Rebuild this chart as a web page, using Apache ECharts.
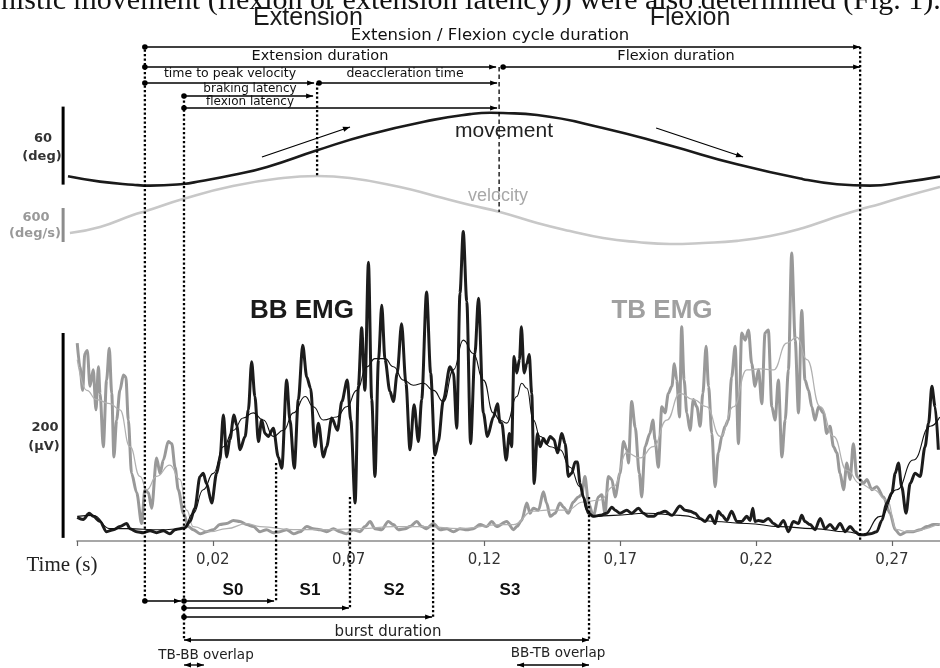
<!DOCTYPE html>
<html><head><meta charset="utf-8">
<script src="https://cdn.jsdelivr.net/npm/echarts/dist/echarts.min.js"></script>
<style>html,body{margin:0;padding:0;background:#fff}#c{width:940px;height:668px}</style>
</head><body><div id="c"></div>
<script>
// ---------- axis ticks (time in ms, labelled in s) ----------
const tickTimes = [-30, 20, 70, 120, 170, 220, 270];
const tickLabels = ['', '0,02', '0,07', '0,12', '0,17', '0,22', '0,27'];

// ---------- event times (ms) ----------
const eventTimes = {A:-5.0, B:9.4, C:58.4, D:125.4, E:258.3, S0:43.3, S1:70.5, S2:101.1, S3:158.5, TBoff:16.75, TBon:132.0};

// ---------- movement (deg) ----------
const moveT = [-33.3,-21.5,-9.4,-3.1,9.0,15.3,27.4,40.0,58.4,76.8,101.1,114.7,122.1,126.8,139.4,163.6,188.3,213.0,237.3,249.8,261.9,274.1,287.7];
const moveV = [7.4,3.3,0.9,0.2,1.5,3.6,8.4,14.6,27.4,39.2,50.8,55.2,56.3,56.1,54.5,44.6,31.0,16.6,5.2,1.3,0.2,2.8,7.2];

// ---------- velocity (deg/s) ----------
const velT = [-32.6,-21.5,-9.4,-4.6,9.0,27.4,45.8,58.4,70.5,88.9,101.8,114.7,125.7,139.4,151.5,163.7,176.2,188.3,200.5,213.0,225.2,237.3,247.2,257.6,265.7,274.1,287.7];
const velV = [-406,-300,-88,-18,194,424,565,600,565,406,247,88,-35,-229,-371,-494,-565,-600,-582,-545,-460,-318,-159,0,106,229,406];

// ---------- BB EMG raw (ms, µV) ----------
const bbRaw = [[-29.9,23],[-27.7,21],[-25.5,27],[-24.0,24],[-21.5,19],[-19.1,9],[-16.6,11],[-14.2,14],[-11.7,17],[-10.5,12],[-8.0,9],[-5.6,8],[-3.1,10],[-0.7,8],[1.8,10],[4.2,7],[6.1,11],[7.9,12],[9.8,13],[11.6,19],[13.4,32],[15.3,63],[16.5,66],[17.7,56],[19.6,37],[21.4,66],[22.6,79],[23.9,123],[25.1,82],[26.3,99],[27.8,123],[28.8,113],[30.0,89],[31.9,102],[33.1,128],[34.3,175],[35.5,141],[36.8,97],[38.0,118],[39.2,105],[40.4,102],[42.3,110],[44.1,82],[45.4,71],[47.2,157],[48.4,118],[50.0,71],[51.5,138],[53.1,191],[54.6,160],[56.0,149],[57.6,92],[58.9,115],[60.7,82],[61.9,92],[63.8,120],[65.9,108],[67.5,136],[69.5,157],[70.8,118],[72.4,37],[73.6,151],[74.8,208],[76.0,147],[77.3,272],[78.5,138],[79.7,63],[81.0,177],[82.2,230],[83.4,177],[85.2,146],[86.5,136],[87.9,164],[89.5,212],[91.1,154],[92.6,89],[94.1,133],[95.7,97],[96.9,138],[98.7,243],[100.2,164],[101.8,84],[103.0,97],[104.9,138],[107.3,170],[108.6,164],[109.8,110],[111.0,242],[112.2,302],[113.5,234],[114.9,95],[116.5,183],[117.8,237],[119.6,125],[121.1,102],[123.3,121],[124.8,134],[125.7,116],[126.4,115],[128.0,79],[129.2,105],[130.0,92],[130.9,180],[131.9,164],[132.9,177],[133.6,209],[134.6,164],[135.6,173],[136.5,182],[137.4,144],[138.3,56],[139.5,105],[140.5,92],[141.7,100],[142.9,95],[144.2,102],[145.6,99],[146.9,86],[148.5,105],[149.7,95],[150.9,63],[152.1,66],[153.4,77],[154.2,77],[155.2,56],[156.4,43],[158.3,27],[160.1,24],[162.6,25],[165.0,27],[166.9,33],[168.1,30],[169.9,27],[172.4,30],[174.2,27],[176.7,32],[178.5,27],[180.4,24],[182.2,24],[184.0,27],[186.5,29],[189.0,25],[192.0,34],[193.9,30],[195.7,29],[197.5,27],[199.4,22],[201.2,19],[203.1,25],[204.9,17],[206.1,29],[207.4,25],[209.2,20],[211.0,29],[212.9,19],[214.7,19],[216.6,24],[217.8,20],[218.8,32],[219.6,19],[220.9,20],[222.7,19],[224.5,22],[226.4,17],[228.2,14],[230.1,20],[231.9,9],[233.7,19],[235.6,17],[236.8,25],[238.0,19],[239.9,16],[241.7,11],[243.6,22],[245.4,12],[247.2,16],[249.1,11],[250.9,17],[252.8,9],[254.6,14],[256.5,9],[258.0,6],[259.5,6],[262.0,7],[264.4,9],[266.3,20],[268.1,37],[270.0,47],[271.2,66],[272.4,76],[273.6,53],[275.2,27],[276.7,56],[278.5,66],[280.4,63],[282.2,92],[283.5,115],[284.7,151],[285.9,131],[287.1,89]];

// ---------- BB EMG smoothed ----------
const bbSmooth = [[-29.9,24],[-24.0,25],[-17.9,12],[-11.7,12],[0.6,11],[9.2,12],[12.8,27],[16.5,50],[20.2,66],[23.9,92],[27.6,108],[31.2,120],[34.9,125],[38.6,118],[42.3,102],[46.0,108],[49.7,125],[54.0,141],[57.0,131],[60.7,118],[65.6,121],[69.3,131],[73.0,147],[76.7,170],[79.7,178],[83.4,178],[86.5,170],[90.2,157],[93.8,152],[97.5,154],[101.2,147],[104.9,136],[108.6,167],[112.2,196],[115.9,183],[119.6,157],[123.3,125],[125.7,118],[128.2,115],[131.9,141],[133.7,154],[135.6,149],[138.0,118],[140.5,102],[144.2,92],[147.8,89],[151.5,72],[155.2,53],[157.7,30],[160.1,24],[167.5,25],[179.8,27],[192.0,25],[204.3,19],[216.6,17],[228.8,14],[241.1,12],[253.4,9],[259.5,6],[265.7,24],[271.8,50],[277.9,79],[284.1,112],[287.6,121]];

// ---------- TB EMG raw ----------
const tbRaw = [[-29.9,193],[-28.9,170],[-27.9,147],[-27.1,183],[-26.2,186],[-25.2,151],[-24.0,167],[-23.0,128],[-22.1,170],[-21.5,144],[-20.3,92],[-19.1,157],[-18.1,188],[-17.2,144],[-16.4,82],[-15.4,118],[-14.2,147],[-12.9,162],[-12.0,160],[-11.1,118],[-9.9,66],[-8.0,47],[-6.2,17],[-5.0,50],[-3.7,47],[-2.5,32],[-0.7,81],[0.6,66],[1.8,79],[3.6,97],[4.9,95],[6.1,72],[7.3,50],[9.2,27],[11.0,14],[12.8,11],[15.3,7],[17.7,9],[20.2,11],[22.6,16],[25.1,17],[27.6,20],[30.0,19],[32.5,16],[34.9,14],[37.4,9],[39.8,11],[42.3,8],[44.7,9],[47.2,11],[49.7,7],[52.1,9],[54.6,14],[57.0,12],[59.5,11],[61.9,9],[64.4,12],[66.8,9],[69.3,7],[71.7,11],[74.2,9],[76.0,14],[77.9,19],[79.7,12],[82.2,11],[84.6,19],[86.5,16],[88.3,11],[90.8,12],[92.6,14],[95.1,19],[96.9,14],[98.7,12],[101.2,17],[103.7,11],[106.1,12],[108.6,9],[111.0,12],[113.5,11],[115.9,12],[118.4,16],[120.8,14],[122.7,19],[124.5,14],[128.2,19],[130.7,11],[131.9,14],[133.7,20],[135.6,37],[136.8,27],[138.0,32],[139.9,30],[141.7,48],[142.9,37],[144.2,24],[146.0,27],[147.8,37],[149.1,33],[150.9,27],[152.7,38],[154.6,43],[155.8,45],[157.0,63],[158.3,37],[160.1,24],[161.9,43],[163.2,45],[164.4,27],[165.6,63],[166.9,60],[168.1,43],[169.9,66],[171.2,97],[172.4,89],[173.0,76],[174.2,136],[175.5,111],[177.0,66],[177.9,43],[179.1,92],[180.9,105],[182.0,118],[182.8,99],[184.0,72],[185.3,131],[186.5,125],[187.7,144],[189.0,151],[189.9,173],[190.8,157],[191.8,121],[192.6,209],[193.5,157],[194.5,125],[195.7,108],[196.9,138],[198.2,131],[199.4,112],[200.4,144],[201.6,190],[202.5,151],[203.7,105],[204.9,53],[206.1,86],[207.4,102],[208.6,112],[209.8,118],[211.0,160],[212.3,190],[213.5,95],[214.7,203],[216.0,196],[217.2,206],[218.4,173],[219.6,151],[220.9,167],[222.1,134],[223.3,203],[224.5,206],[225.8,131],[227.0,118],[228.2,157],[229.5,82],[230.7,118],[231.9,167],[233.1,281],[234.4,196],[235.6,125],[236.8,225],[238.0,157],[239.3,147],[240.5,131],[241.7,118],[243.0,131],[244.8,125],[246.0,105],[247.2,112],[248.5,92],[249.7,86],[250.9,66],[252.2,50],[253.4,76],[254.6,60],[255.8,95],[257.1,63],[258.3,60],[259.5,56],[260.8,60],[262.6,50],[264.4,53],[266.9,43],[269.3,27],[271.2,11],[273.0,6],[275.5,9],[277.9,9],[280.4,11],[282.8,14],[285.3,16],[287.6,16]];

// ---------- TB EMG smoothed ----------
const tbSmooth = [[-29.9,177],[-26.4,147],[-22.8,138],[-17.9,134],[-14.2,128],[-10.5,92],[-6.8,63],[-4.3,50],[-0.7,63],[4.2,74],[7.9,60],[10.4,30],[12.8,14],[19.0,9],[25.1,12],[32.5,17],[37.4,14],[49.7,11],[61.9,11],[74.2,12],[86.5,14],[98.7,14],[111.0,12],[125.7,16],[130.7,16],[138.0,29],[142.9,30],[150.3,30],[156.4,38],[162.6,40],[167.5,53],[172.4,86],[177.3,81],[182.2,92],[187.1,118],[192.0,144],[196.9,138],[201.8,131],[206.8,102],[211.7,131],[216.6,167],[221.5,168],[226.4,167],[231.3,193],[235.0,199],[238.7,177],[243.6,131],[248.5,102],[253.4,69],[258.3,56],[263.2,50],[268.1,40],[271.8,11],[275.5,9],[287.6,17]];

// ---------- scale bars: [start value, size] ----------
const barMovement = [1, 60];
const barVelocity = [-565, 600];
const barEmg = [3, 200];
const barX = -35.1;

// ---------- annotation layout (layout rows in px units) ----------
const arrowSpecs = [
  ['A','E',47,1,0,1,0,0],
  ['A','D',67,1,0,1,0,3],
  ['D','E',67,1,0,1,4,0],
  ['A','C',83,1,0,1,0,3],
  ['C','D',83,1,0,1,2,2],
  ['B','C',96,1,0,1,0,4],
  ['B','D',108,1,0,1,0,2],
  ['A','B',601,1,0,1,0,3],
  ['B','S0',601,1,0,1,0,2],
  ['B','S1',608,1,0,1,0,1],
  ['B','S2',617,1,0,1,0,1],
  ['B','S3',640,0,1,1,0,0],
  ['B','TBoff',665,0,1,1,0,0],
  ['TBon','S3',665,0,1,1,0,0]
];
const moveArrows = [[38.1,157,70.5,127],[183.2,128,215.2,157]];
const vLines = [
  ['A',45,601,1],['B',96,640,1],['C',83,176,1],['D',67,212,2],['E',47,541,1],
  ['S0',463,601,1],['S1',497,608,1],['S2',457,617,1],['S3',497,640,1]
];

const SANS = '"Liberation Sans", Arial, sans-serif';
const DJ = '"DejaVu Sans", sans-serif';
const texts = [
  ['nistic movement (flexion or extension latency)) were also determined (Fig. 1).', 1, 1, '30px "Liberation Serif", serif', '#111', 'left'],
  ['Extension', 308, 18, '25px ' + SANS, '#1a1a1a', 'center'],
  ['Flexion', 690, 18, '25px ' + SANS, '#1a1a1a', 'center'],
  ['Extension / Flexion cycle duration', 490, 36, '16.5px ' + DJ, '#111', 'center'],
  ['Extension duration', 320, 56, '14.5px ' + DJ, '#111', 'center'],
  ['Flexion duration', 676, 56, '14.5px ' + DJ, '#111', 'center'],
  ['time to peak velocity', 230, 74, '12.5px ' + DJ, '#111', 'center'],
  ['deaccleration time', 405, 74, '12.5px ' + DJ, '#111', 'center'],
  ['braking latency', 250, 89, '12px ' + DJ, '#111', 'center'],
  ['flexion latency', 250, 101.5, '12px ' + DJ, '#111', 'center'],
  ['movement', 504, 131, '21px ' + SANS, '#222', 'center'],
  ['velocity', 498, 196, '18px ' + SANS, '#a8a8a8', 'center'],
  ['60', 43, 139, 'bold 13px ' + DJ, '#333', 'center'],
  ['(deg)', 42, 157, 'bold 13px ' + DJ, '#333', 'center'],
  ['600', 36, 218, 'bold 13px ' + DJ, '#999', 'center'],
  ['(deg/s)', 35, 234, 'bold 13px ' + DJ, '#999', 'center'],
  ['200', 45, 428, 'bold 13px ' + DJ, '#333', 'center'],
  ['(µV)', 44, 447, 'bold 13px ' + DJ, '#333', 'center'],
  ['BB EMG', 302, 311, 'bold 26px ' + SANS, '#1a1a1a', 'center'],
  ['TB EMG', 662, 311, 'bold 26px ' + SANS, '#a0a0a0', 'center'],
  ['Time (s)', 62, 565, '21px "Liberation Serif", serif', '#222', 'center'],
  ['S0', 233, 590, 'bold 17px ' + SANS, '#111', 'center'],
  ['S1', 310, 590, 'bold 17px ' + SANS, '#111', 'center'],
  ['S2', 394, 590, 'bold 17px ' + SANS, '#111', 'center'],
  ['S3', 510, 590, 'bold 17px ' + SANS, '#111', 'center'],
  ['burst duration', 388, 632, '15px ' + DJ, '#222', 'center'],
  ['TB-BB overlap', 206, 655, '13.5px ' + DJ, '#222', 'center'],
  ['BB-TB overlap', 558, 653, '13.5px ' + DJ, '#222', 'center']
];

// ---------- build ----------
const zip = (a, b) => a.map((v, i) => [v, b[i]]);
const arrowData = arrowSpecs.map(s => [eventTimes[s[0]], s[2], eventTimes[s[1]], s[2], s[3], s[4], s[5], s[6], s[7]])
  .concat(moveArrows.map(m => [m[0], m[1], m[2], m[3], 0, 0, 1, 0, 0]));
const vLineData = vLines.map(v => [eventTimes[v[0]], v[1], v[2], v[3]]);

function renderArrow(params, api) {
  const a = api.coord([api.value(0), api.value(1)]);
  const b = api.coord([api.value(2), api.value(3)]);
  const sDot = api.value(4), sHead = api.value(5), eHead = api.value(6), ds = api.value(7), ts = api.value(8);
  const dx = b[0] - a[0], dy = b[1] - a[1], len = Math.hypot(dx, dy) || 1;
  const ux = dx / len, uy = dy / len, nx = -uy, ny = ux;
  const s = [a[0] + ux * ds, a[1] + uy * ds], e = [b[0] - ux * ts, b[1] - uy * ts];
  const L = 7, W = 2.6;
  const ch = [{type: 'line', shape: {x1: s[0], y1: s[1], x2: e[0], y2: e[1]}, style: {stroke: '#000', lineWidth: 1.3}}];
  if (eHead) ch.push({type: 'polygon', shape: {points: [[e[0], e[1]], [e[0] - ux * L + nx * W, e[1] - uy * L + ny * W], [e[0] - ux * L - nx * W, e[1] - uy * L - ny * W]]}, style: {fill: '#000'}});
  if (sHead) ch.push({type: 'polygon', shape: {points: [[s[0], s[1]], [s[0] + ux * L + nx * W, s[1] + uy * L + ny * W], [s[0] + ux * L - nx * W, s[1] + uy * L - ny * W]]}, style: {fill: '#000'}});
  if (sDot) ch.push({type: 'circle', shape: {cx: s[0], cy: s[1], r: 2.8}, style: {fill: '#000'}});
  return {type: 'group', children: ch};
}
function renderVLine(params, api) {
  const p1 = api.coord([api.value(0), api.value(1)]);
  const p2 = api.coord([api.value(0), api.value(2)]);
  const dotted = api.value(3) === 1;
  return {type: 'line', shape: {x1: p1[0], y1: p1[1], x2: p2[0], y2: p2[1]},
    style: {stroke: '#000', lineWidth: dotted ? 2.3 : 1.3, lineDash: dotted ? [2.2, 2.3] : [4.5, 3]}};
}
function barRenderer(color) {
  return function (params, api) {
    const p1 = api.coord([api.value(0), api.value(1)]);
    const p2 = api.coord([api.value(0), api.value(2)]);
    return {type: 'line', shape: {x1: p1[0], y1: p1[1], x2: p2[0], y2: p2[1]}, style: {stroke: color, lineWidth: 3}};
  };
}

const lineBase = {type: 'line', xAxisIndex: 1, showSymbol: false, symbol: 'none', clip: false, animation: false};

const option = {
  animation: false,
  backgroundColor: '#fff',
  grid: [
    {left: 77, right: 0, bottom: 127, height: 20},
    {left: 0, right: 0, top: 0, bottom: 0}
  ],
  xAxis: [
    {gridIndex: 0, type: 'value', min: -30, max: 287.7, position: 'bottom',
      axisLine: {show: true, lineStyle: {color: '#8a8a8a', width: 1.6}},
      axisTick: {show: true, length: 5, customValues: tickTimes, lineStyle: {color: '#666', width: 1.2}},
      axisLabel: {customValues: tickTimes.slice(1), fontFamily: 'DejaVu Sans', fontSize: 15, color: '#333', margin: 12,
        formatter: v => { const i = tickTimes.indexOf(v); return i >= 0 ? tickLabels[i] : ''; }},
      splitLine: {show: false}},
    {gridIndex: 1, type: 'value', min: -58.33, max: 287.7, show: false, splitLine: {show: false}}
  ],
  yAxis: [
    {gridIndex: 0, type: 'value', min: 0, max: 1, show: false},
    {gridIndex: 1, type: 'value', min: -124, max: 528, show: false},
    {gridIndex: 1, type: 'value', min: -370.8, max: 143, show: false},
    {gridIndex: 1, type: 'value', min: -8082, max: 3706, show: false},
    {gridIndex: 1, type: 'value', min: 0, max: 668, inverse: true, show: false}
  ],
  series: [
    Object.assign({}, lineBase, {name: 'velocity', yAxisIndex: 3, smooth: 0.5, data: zip(velT, velV), lineStyle: {color: '#c8c8c8', width: 2.6}}),
    Object.assign({}, lineBase, {name: 'movement', yAxisIndex: 2, smooth: 0.5, data: zip(moveT, moveV), lineStyle: {color: '#1a1a1a', width: 2.6}}),
    Object.assign({}, lineBase, {name: 'TB raw', yAxisIndex: 1, smooth: 0.3, smoothMonotone: 'x', data: tbRaw, lineStyle: {color: '#999', width: 3}}),
    Object.assign({}, lineBase, {name: 'TB smooth', yAxisIndex: 1, smooth: 0.5, smoothMonotone: 'x', data: tbSmooth, lineStyle: {color: '#b0b0b0', width: 1.2}}),
    Object.assign({}, lineBase, {name: 'BB raw', yAxisIndex: 1, smooth: 0.3, smoothMonotone: 'x', data: bbRaw, lineStyle: {color: '#1c1c1c', width: 3}}),
    Object.assign({}, lineBase, {name: 'BB smooth', yAxisIndex: 1, smooth: 0.5, smoothMonotone: 'x', data: bbSmooth, lineStyle: {color: '#111', width: 1.1}}),
    {type: 'custom', xAxisIndex: 1, yAxisIndex: 4, renderItem: renderVLine, data: vLineData, clip: false, silent: true, z: 5},
    {type: 'custom', xAxisIndex: 1, yAxisIndex: 4, renderItem: renderArrow, data: arrowData, clip: false, silent: true, z: 6},
    {type: 'custom', xAxisIndex: 1, yAxisIndex: 2, renderItem: barRenderer('#000'), data: [[barX, barMovement[0], barMovement[0] + barMovement[1]]], clip: false, silent: true},
    {type: 'custom', xAxisIndex: 1, yAxisIndex: 3, renderItem: barRenderer('#8c8c8c'), data: [[barX, barVelocity[0], barVelocity[0] + barVelocity[1]]], clip: false, silent: true},
    {type: 'custom', xAxisIndex: 1, yAxisIndex: 1, renderItem: barRenderer('#000'), data: [[barX, barEmg[0], barEmg[0] + barEmg[1]]], clip: false, silent: true}
  ],
  graphic: {elements: texts.map(t => ({
    type: 'text', x: t[1], y: t[2], silent: true, z: 100,
    style: {text: t[0], font: t[3], fill: t[4], textAlign: t[5], textVerticalAlign: 'middle', align: t[5], verticalAlign: 'middle'}
  }))}
};

const chart = echarts.init(document.getElementById('c'), null, {renderer: 'canvas', width: 940, height: 668});
chart.setOption(option);
</script></body></html>
